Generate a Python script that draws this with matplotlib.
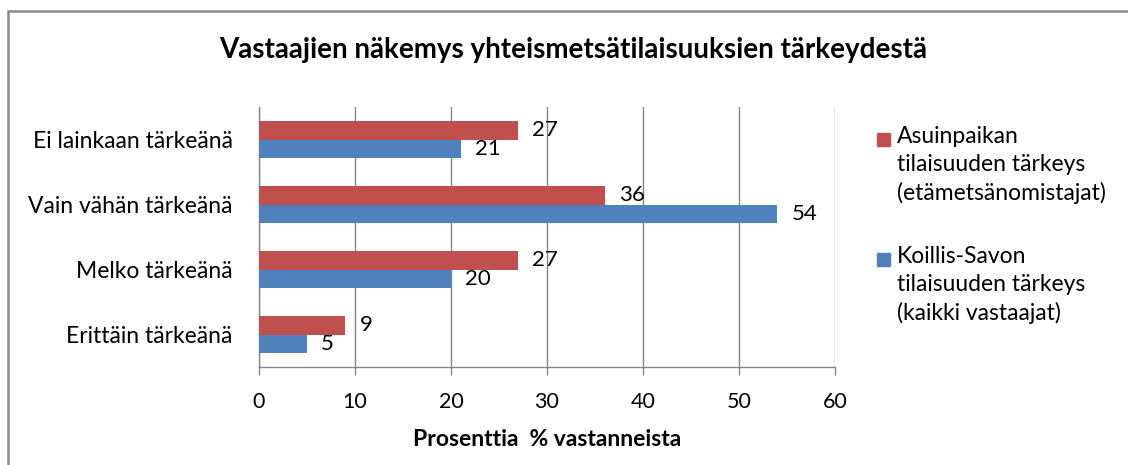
import matplotlib
matplotlib.use("Agg")
import numpy as np
from matplotlib import pyplot as plt
from matplotlib.patches import Rectangle

plt.rcParams['font.family'] = ['Lato', 'DejaVu Sans']

# data (bottom -> top, as drawn)
categories = ['Erittäin tärkeänä', 'Melko tärkeänä', 'Vain vähän tärkeänä', 'Ei lainkaan tärkeänä']
asuinpaikka = [9, 27, 36, 27]      # red series
koillis_savo = [5, 20, 54, 21]     # blue series
series_labels = ['Asuinpaikan\ntilaisuuden tärkeys\n(etämetsänomistajat)',
                 'Koillis-Savon\ntilaisuuden tärkeys\n(kaikki vastaajat)']
x_ticks = [0, 10, 20, 30, 40, 50, 60]

red = '#C0504D'
blue = '#4F81BD'
grid_col = '#868686'
W, H = 1128, 465

fig = plt.figure(figsize=(W/100, H/100), dpi=100)
# outer chart frame (only top/left edges visible in the crop)
fig.patches.append(Rectangle((8/W, -0.1), 1.2, 1 - 11/H + 0.1, transform=fig.transFigure,
                             fill=False, edgecolor='#8c8c8c', lw=1.8))

ax = fig.add_axes([259/W, 1 - 367/H, 576/W, 260/H])

y = np.arange(len(categories))
h = 0.277
b_red = ax.barh(y + h/2, asuinpaikka, height=h, color=red, zorder=3)
b_blue = ax.barh(y - h/2, koillis_savo, height=h, color=blue, zorder=3)

for bars, vals in ((b_red, asuinpaikka), (b_blue, koillis_savo)):
    for bar, v in zip(bars, vals):
        ax.annotate(str(v), (bar.get_width(), bar.get_y() + bar.get_height()/2),
                    xytext=(14, 0), textcoords='offset pixels', ha='left', va='center',
                    fontsize=16, color='black')

ax.set_xlim(0, 60)
ax.set_ylim(-0.5, 3.5)
ax.set_xticks(x_ticks)
ax.set_yticks(y)
ax.set_yticklabels(categories)
ax.tick_params(axis='x', length=6, width=1, color=grid_col, pad=12, labelsize=15.5)
ax.tick_params(axis='y', length=0, pad=19, labelsize=16.5)
ax.grid(axis='x', color=grid_col, lw=1, zorder=0)
for s in ('top', 'right'):
    ax.spines[s].set_visible(False)
for s in ('left', 'bottom'):
    ax.spines[s].set_color(grid_col)
    ax.spines[s].set_linewidth(1)

ax.set_xlabel('Prosenttia  % vastanneista', fontsize=16.5, fontweight='bold', labelpad=12)

fig.text(573/W, 1 - 50/H, 'Vastaajien näkemys yhteismetsätilaisuuksien tärkeydestä',
         ha='center', va='center', fontsize=20, fontweight='bold')

# legend: square marker next to the first line of each multi-line label
for bars, label, top in ((b_red, series_labels[0], 132), (b_blue, series_labels[1], 252)):
    fig.patches.append(Rectangle((877/W, 1 - (top + 14)/H), 13/W, 13/H, transform=fig.transFigure,
                                 color=bars[0].get_facecolor()))
    fig.text(897/W, 1 - (top - 6)/H, label, ha='left', va='top', fontsize=16.5,
             linespacing=1.4)

fig.savefig('out.png', dpi=100)
